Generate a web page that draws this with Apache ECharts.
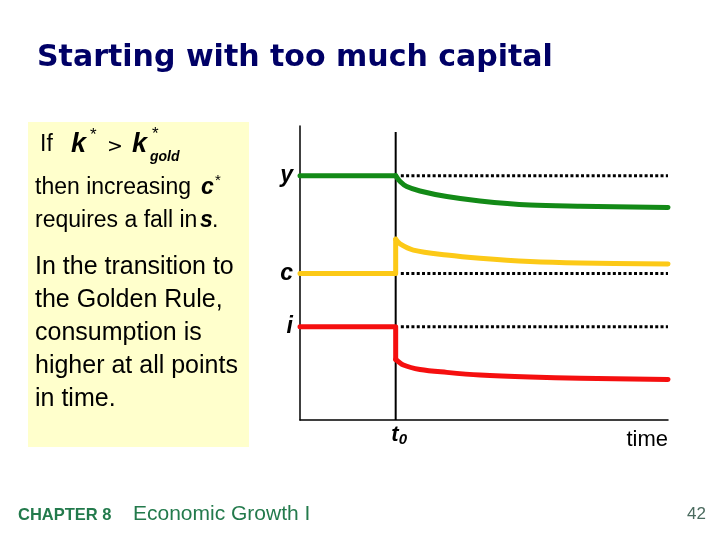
<!DOCTYPE html>
<html><head><meta charset="utf-8">
<script src="https://cdn.jsdelivr.net/npm/echarts@6/dist/echarts.min.js"></script>
<style>html,body{margin:0;padding:0;background:#fff}#c{width:720px;height:540px}</style>
</head><body><div id="c"></div>
<script>
// time axis runs 0..100, t0 at 26
var t0 = 26;
var dottedStart = 27.4;
var seriesNames = ['y', 'c', 'i'];
var initialLevels = [83.1, 49.8, 31.7];
var yPath = [[0,83.1],[26,83.1],[27.2,81.1],[29,79.4],[32.6,77.9],[39.9,76.0],[48.9,74.5],[62.5,73.1],[76.1,72.7],[100,72.3]];
var cPath = [[0,49.8],[26,49.8],[26,61.5],[27.2,59.9],[30.8,57.8],[39.9,56.1],[48.9,55.0],[62.5,53.9],[76.1,53.4],[100,53.1]];
var iPath = [[0,31.7],[26,31.7],[26,20.6],[28.1,18.7],[32.6,17.2],[39.9,16.2],[48.9,15.3],[62.5,14.6],[76.1,14.2],[100,13.8]];
// index where each path's adjustment curve begins
var curveStart = [1, 2, 2];
var t0LineTop = 98;
var colors = ['#138a17', '#fcc917', '#f50f0f'];

function T(x, y, text, font, fill, align, valign) {
  return { type: 'text', x: x, y: y, style: { text: text, font: font, fill: fill || '#000',
    align: align || 'left', verticalAlign: valign || 'middle',
    textAlign: align || 'left', textVerticalAlign: valign || 'middle' } };
}

var series = [];
series.push({ type: 'line', data: [[t0, 0], [t0, t0LineTop]], symbol: 'none', z: 1,
  lineStyle: { color: '#000', width: 2 } });
initialLevels.forEach(function (v) {
  series.push({ type: 'line', data: [[dottedStart, v], [100, v]], symbol: 'none', z: 2,
    lineStyle: { color: '#000', width: 3, type: [3, 2.3] } });
});
[yPath, cPath, iPath].forEach(function (p, k) {
  var s = curveStart[k];
  series.push({ type: 'line', data: p.slice(0, s + 1), symbol: 'none', z: 3,
    lineStyle: { color: colors[k], width: 5, join: 'round', cap: 'round' } });
  series.push({ type: 'line', data: p.slice(s), symbol: 'none', z: 3, smooth: 0.35,
    lineStyle: { color: colors[k], width: 5, join: 'round', cap: 'round' } });
});

var chart = echarts.init(document.getElementById('c'));
chart.setOption({
  animation: false,
  backgroundColor: '#fff',
  grid: { left: 300, top: 126, width: 368, height: 294 },
  xAxis: { type: 'value', min: 0, max: 100, splitLine: { show: false },
    axisLine: { lineStyle: { color: '#000', width: 1.5 } }, axisTick: { show: false },
    axisLabel: { customValues: [t0], margin: 2,
      formatter: function () { return '{t|t}{s|0}'; },
      rich: { t: { fontFamily: 'Liberation Sans', fontStyle: 'italic', fontWeight: 'bold', fontSize: 22, color: '#000', padding: [0, 0, 0, 7] },
              s: { fontFamily: 'Liberation Sans', fontStyle: 'italic', fontWeight: 'bold', fontSize: 15, color: '#000', padding: [10, 0, 0, 0] } } },
    name: 'time', nameLocation: 'end', nameGap: 0,
    nameTextStyle: { fontFamily: 'Liberation Sans', fontSize: 22, color: '#000', align: 'right', verticalAlign: 'top', padding: [9, 0, 0, 0] } },
  yAxis: { type: 'value', min: 0, max: 100, splitLine: { show: false },
    axisLine: { lineStyle: { color: '#000', width: 1.5 } }, axisTick: { show: false },
    axisLabel: { customValues: initialLevels, margin: 7,
      formatter: function (v) { return seriesNames[initialLevels.indexOf(v)] || ''; },
      fontFamily: 'Liberation Sans', fontStyle: 'italic', fontWeight: 'bold', fontSize: 23, color: '#000' } },
  series: series,
  graphic: [
    { type: 'rect', shape: { x: 28, y: 122, width: 221, height: 325 }, style: { fill: '#ffffcc' }, z: -1 },
    T(37, 58, 'Starting with too much capital', 'bold 30px "DejaVu Sans"', '#000066'),
    T(40, 145, 'If', '23px "Liberation Sans"'),
    T(71, 145, 'k', 'italic bold 27px "Liberation Sans"'),
    T(90, 135, '*', '17px "Liberation Sans"'),
    T(107, 147, '>', '19px "DejaVu Serif"'),
    T(132, 145, 'k', 'italic bold 27px "Liberation Sans"'),
    T(152, 134, '*', '17px "Liberation Sans"'),
    T(150, 157, 'gold', 'italic bold 14px "Liberation Sans"'),
    T(35, 188, 'then increasing', '23px "Liberation Sans"'),
    T(201, 188, 'c', 'italic bold 23px "Liberation Sans"'),
    T(215, 181, '*', '15px "Liberation Sans"'),
    T(35, 221, 'requires a fall in', '23px "Liberation Sans"'),
    T(200, 221, 's', 'italic bold 23px "Liberation Sans"'),
    T(212, 221, '.', '23px "Liberation Sans"'),
    { type: 'text', x: 35, y: 251, style: { text: 'In the transition to\nthe Golden Rule,\nconsumption is\nhigher at all points\nin time.',
      font: '25px "Liberation Sans"', fill: '#000', lineHeight: 33, align: 'left', verticalAlign: 'top', textAlign: 'left', textVerticalAlign: 'top' } },
    T(18, 515, 'CHAPTER 8', 'bold 16.5px "Liberation Sans"', '#237a4c'),
    T(133, 514, 'Economic Growth I', '21px "Liberation Sans"', '#237a4c'),
    T(706, 514, '42', '17px "Liberation Sans"', '#4a6a5e', 'right')
  ]
});
</script></body></html>
